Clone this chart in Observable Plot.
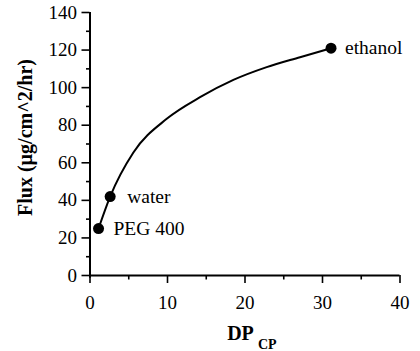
<!DOCTYPE html>
<html>
<head>
<meta charset="utf-8">
<script src="https://cdn.jsdelivr.net/npm/d3@7"></script>
<script src="https://cdn.jsdelivr.net/npm/@observablehq/plot@0.6"></script>
<style>
  html, body { margin: 0; padding: 0; background: #fff; }
  #chart svg { display: block; }
</style>
</head>
<body>
<div id="chart"></div>
<script>
// Data
const pointNames = ["PEG 400", "water", "ethanol"];
const pointX = [1.1, 2.6, 31.1];
const pointY = [25, 42, 121];

const curveX = [1.1, 2.6, 5.6, 9.9, 14.2, 18.5, 22.8, 27.1, 31.1];
const curveY = [25, 42, 65.5, 83.4, 94.9, 104.1, 110.9, 116.2, 121];

const yMajorTicks = [0, 20, 40, 60, 80, 100, 120, 140];
const yMinorTicks = [10, 30, 50, 70, 90, 110, 130];
const xMajorTicks = [0, 10, 20, 30, 40];
const xMinorTicks = [5, 15, 25, 35];

const yLabel = "Flux (µg/cm^2/hr)";
const xLabelMain = "DP";
const xLabelSub = "CP";

const points = pointNames.map((n, i) => ({name: n, x: pointX[i], y: pointY[i]}));
const curve = curveX.map((x, i) => ({x, y: curveY[i]}));

const font = "'Liberation Serif', 'Times New Roman', serif";

const chart = Plot.plot({
  width: 420,
  height: 351,
  marginLeft: 89.5,
  marginRight: 20.5,
  marginTop: 12,
  marginBottom: 76,
  style: {fontFamily: font, background: "#fff", color: "#000"},
  x: {domain: [0, 40]},
  y: {domain: [0, 140]},
  marks: [
    Plot.axisY(yMajorTicks, {tickSize: 8, tickPadding: 5, fontSize: 19, strokeWidth: 1.6, label: null, tickFormat: d => d}),
    Plot.axisY(yMinorTicks, {tickSize: 3.5, strokeWidth: 1.6, text: null, label: null}),
    Plot.axisX(xMajorTicks, {tickSize: 8, tickPadding: 12, fontSize: 19, strokeWidth: 1.6, label: null, tickFormat: d => d}),
    Plot.axisX(xMinorTicks, {tickSize: 4.5, strokeWidth: 1.6, text: null, label: null}),
    Plot.ruleX([0], {y1: -1.5, y2: 140, strokeWidth: 2}),
    Plot.ruleY([0], {x1: 0, x2: 40, strokeWidth: 1.8}),
    Plot.line(curve, {x: "x", y: "y", curve: "monotone-x", strokeWidth: 2, stroke: "#000"}),
    Plot.dot(points, {x: "x", y: "y", r: 5.5, fill: "#000", stroke: null}),
    Plot.text(points.filter(d => d.name === "PEG 400"), {x: "x", y: "y", text: "name", dx: 15, textAnchor: "start", fontSize: 19.5}),
    Plot.text(points.filter(d => d.name === "water"), {x: "x", y: "y", text: "name", dx: 17, textAnchor: "start", fontSize: 19.5}),
    Plot.text(points.filter(d => d.name === "ethanol"), {x: "x", y: "y", text: "name", dx: 14, textAnchor: "start", fontSize: 19.5}),
    Plot.text([yLabel], {frameAnchor: "left", dx: -64.5, dy: -6.5, rotate: -90, fontSize: 20, fontWeight: "bold", textAnchor: "middle"}),
    Plot.text([xLabelMain], {frameAnchor: "bottom", dx: -4.5, dy: 64, fontSize: 20, fontWeight: "bold", textAnchor: "middle", lineAnchor: "bottom"}),
    Plot.text([xLabelSub], {frameAnchor: "bottom", dx: 13, dy: 73, fontSize: 14, fontWeight: "bold", textAnchor: "start", lineAnchor: "bottom"})
  ]
});
document.getElementById("chart").appendChild(chart);
</script>
</body>
</html>
